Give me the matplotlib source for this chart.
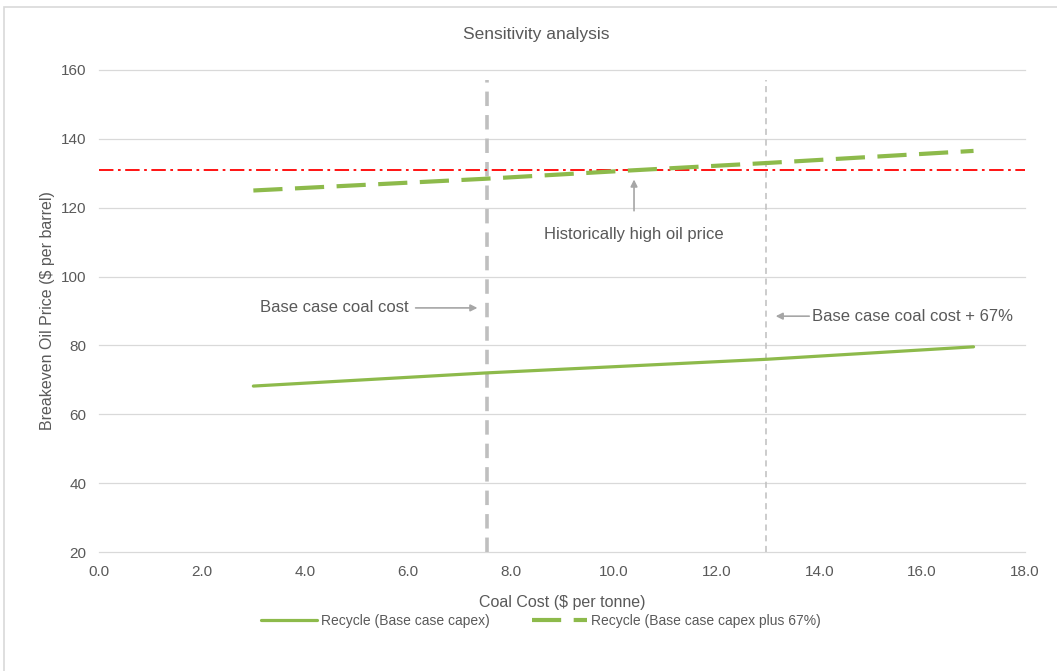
import matplotlib
matplotlib.use("Agg")
import matplotlib.pyplot as plt
from matplotlib.patches import Rectangle

# data
base_x = [3.0, 7.5, 13.0, 17.0]
base_y = [68.2, 72.0, 76.0, 79.6]
plus67_x = [3.0, 7.5, 10.3, 13.0, 17.0]
plus67_y = [125.0, 128.4, 130.8, 133.0, 136.5]
oil_price_high = 131.0
base_coal_cost = 7.55
base_coal_cost_67 = 12.97

x_ticks = [0, 2, 4, 6, 8, 10, 12, 14, 16, 18]
y_ticks = [20, 40, 60, 80, 100, 120, 140, 160]

GREEN = "#8DBA4B"
GREY_TXT = "#595959"
GREY_LINE = "#BFBFBF"

plt.rcParams["font.family"] = ["Liberation Sans", "DejaVu Sans"]

fig = plt.figure(figsize=(10.57, 6.71), dpi=100)
ax = fig.add_axes([0.0937, 0.1773, 0.876, 0.7184])

# reference lines
ax.axvline(base_coal_cost, ymax=0.98, color=GREY_LINE, lw=2.6, ls=(0, (4, 2.5)), zorder=1)
ax.axvline(base_coal_cost_67, ymax=0.98, color=GREY_LINE, lw=1.1, ls=(0, (4, 3)), zorder=1)
ax.axhline(oil_price_high, color="#FF0000", lw=1.3, ls=(0, (8, 2.5, 1.5, 2.5)), zorder=2)

ax.plot(base_x, base_y, color=GREEN, lw=2.3, solid_capstyle="round",
        label="Recycle (Base case capex)", zorder=3)
ax.plot(plus67_x, plus67_y, color=GREEN, lw=3.0, ls=(0, (7, 3)),
        label="Recycle (Base case capex plus 67%)", zorder=3)

ax.set_xlim(0, 18)
ax.set_ylim(20, 160)
ax.set_xticks(x_ticks)
ax.set_xticklabels([f"{v:.1f}" for v in x_ticks])
ax.set_yticks(y_ticks)
ax.grid(axis="y", color="#D9D9D9", lw=0.9, clip_on=False)
ax.set_axisbelow(True)
for s in ax.spines.values():
    s.set_visible(False)
ax.tick_params(length=0, colors=GREY_TXT, labelsize=11, pad=9)

ax.set_xlabel("Coal Cost ($ per tonne)", color=GREY_TXT, fontsize=11.5, labelpad=12)
ax.set_ylabel("Breakeven Oil Price ($ per barrel)", color=GREY_TXT, fontsize=11.5, labelpad=4)
fig.text(0.507, 0.949, "Sensitivity analysis", color=GREY_TXT, fontsize=12.5,
         ha="center", va="center")

arrow = dict(arrowstyle="-|>", color="#A6A6A6", lw=1.2, mutation_scale=10, shrinkA=3)
ax.annotate("Base case coal cost", xy=(7.41, 90.9), xytext=(3.13, 90.9),
            color=GREY_TXT, fontsize=12, va="center", arrowprops=arrow)
ax.annotate("Base case coal cost + 67%", xy=(13.1, 88.5), xytext=(13.86, 88.5),
            color=GREY_TXT, fontsize=12, va="center", ha="left",
            arrowprops=dict(arrow, shrinkA=0))
ax.annotate("Historically high oil price", xy=(10.4, 129.0), xytext=(10.4, 112.1),
            color=GREY_TXT, fontsize=12, va="center", ha="center",
            arrowprops=dict(arrow, shrinkA=10))

leg = fig.legend(loc="center", bbox_to_anchor=(0.512, 0.074), ncol=2, frameon=False,
                 fontsize=10, handlelength=4.0, handletextpad=0.3, columnspacing=3.0)
for t in leg.get_texts():
    t.set_color(GREY_TXT)

fig.patches.append(Rectangle((0.004, -0.02), 1.1, 1.01, transform=fig.transFigure,
                             fill=False, edgecolor="#D9D9D9", lw=1.2))

fig.savefig("out.png", dpi=100)
